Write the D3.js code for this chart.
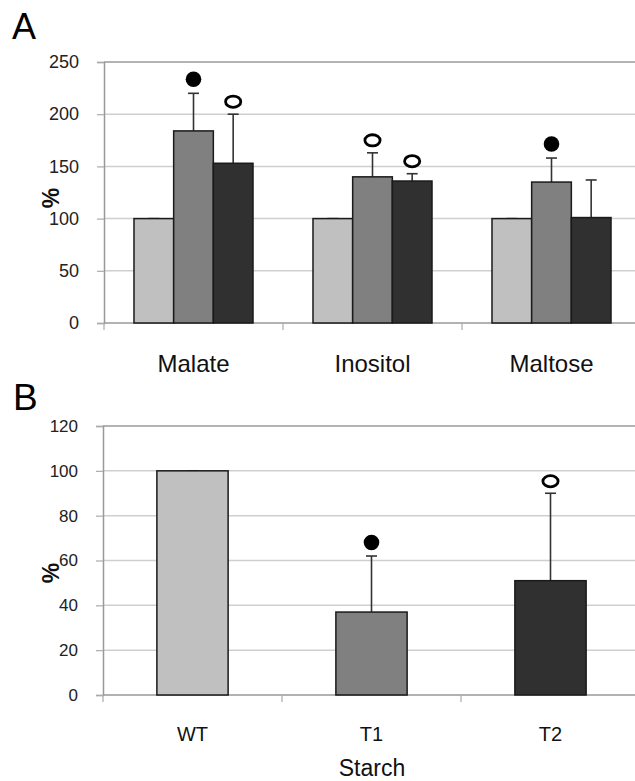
<!DOCTYPE html>
<html>
<head>
<meta charset="utf-8">
<script src="https://cdn.jsdelivr.net/npm/d3@7"></script>
<style>
  body { margin: 0; background: #fff; }
  svg { display: block; font-family: "Liberation Sans", Arial, sans-serif; }
</style>
</head>
<body>
<div id="chart"></div>
<script>
// panel A data
const categoriesA = ["Malate", "Inositol", "Maltose"];
const seriesNames = ["WT", "T1", "T2"];
const valuesWT = [100, 100, 100];
const valuesT1 = [184, 140, 135];
const valuesT2 = [153, 136, 101];
const errorsWT = [0, 0, 0];
const errorsT1 = [36, 23, 23];
const errorsT2 = [47, 7, 36];
const marksT1 = ["filled", "open", "filled"];
const marksT2 = ["open", "open", null];
const ticksA = [0, 50, 100, 150, 200, 250];

// panel B data (starch)
const categoriesB = ["WT", "T1", "T2"];
const valuesB = [100, 37, 51];
const errorsB = [0, 25, 39];
const marksB = [null, "filled", "open"];
const ticksB = [0, 20, 40, 60, 80, 100, 120];

const colors = { WT: "#c0c0c0", T1: "#808080", T2: "#303030" };

const W = 635, H = 781;
const svg = d3.select("#chart").append("svg")
    .attr("width", W)
    .attr("height", H);

function drawFrame(g, y, ticks, x0, x1, fontSize, boundaries) {
    // gridlines
    g.selectAll(".grid")
        .data(ticks.filter(t => t > 0))
        .enter().append("line")
        .attr("x1", x0).attr("x2", x1)
        .attr("y1", d => y(d)).attr("y2", d => y(d))
        .attr("stroke", (d, i, n) => i === n.length - 1 ? "#9a9a9a" : "#cfcfcf")
        .attr("stroke-width", 1.5);

    // y axis
    const yAxis = d3.axisLeft(y).tickValues(ticks).tickSize(7).tickPadding(18);
    const ya = g.append("g")
        .attr("transform", `translate(${x0},0)`)
        .call(yAxis);
    ya.select(".domain").attr("stroke", "#999").attr("stroke-width", 1.5);
    ya.selectAll(".tick line").attr("stroke", "#aaa").attr("stroke-width", 1.2);
    ya.selectAll(".tick text")
        .attr("fill", "#222")
        .style("font-size", fontSize + "px")
        .style("font-family", "'Liberation Sans', Arial, sans-serif");

    // x axis baseline + boundary ticks
    g.append("line")
        .attr("x1", x0).attr("x2", x1)
        .attr("y1", y(0)).attr("y2", y(0))
        .attr("stroke", "#999").attr("stroke-width", 1.5);
    g.selectAll(".xtick")
        .data(boundaries)
        .enter().append("line")
        .attr("x1", d => d).attr("x2", d => d)
        .attr("y1", y(0)).attr("y2", y(0) + 7)
        .attr("stroke", "#aaa").attr("stroke-width", 1.2);
}

function drawMarker(g, cx, cy, kind) {
    if (kind === "filled") {
        g.append("circle")
            .attr("cx", cx).attr("cy", cy - 1.5)
            .attr("r", 7.8)
            .attr("fill", "#000");
    } else if (kind === "open") {
        g.append("ellipse")
            .attr("cx", cx).attr("cy", cy)
            .attr("rx", 7.6).attr("ry", 5.6)
            .attr("fill", "none")
            .attr("stroke", "#000")
            .attr("stroke-width", 2.8);
    }
}

function drawErrorBar(g, cx, yTop, yBar) {
    g.append("line")
        .attr("x1", cx).attr("x2", cx)
        .attr("y1", yBar).attr("y2", yTop)
        .attr("stroke", "#333").attr("stroke-width", 1.6);
    g.append("line")
        .attr("x1", cx - 5.5).attr("x2", cx + 5.5)
        .attr("y1", yTop).attr("y2", yTop)
        .attr("stroke", "#333").attr("stroke-width", 1.6);
}

// ---------- Panel A ----------
const gA = svg.append("g");
const xA = d3.scaleBand()
    .domain(categoriesA)
    .range([104, 641])
    .padding(0);
const xSub = d3.scaleBand()
    .domain(seriesNames)
    .range([0, xA.bandwidth()])
    .paddingInner(0)
    .paddingOuter(0.756);
const yA = d3.scaleLinear().domain([0, 250]).range([323, 62]);

drawFrame(gA, yA, ticksA, 104, 641, 18,
    categoriesA.map(c => xA(c)).concat([641]));

const seriesA = {
    WT: { v: valuesWT, e: errorsWT, m: [null, null, null] },
    T1: { v: valuesT1, e: errorsT1, m: marksT1 },
    T2: { v: valuesT2, e: errorsT2, m: marksT2 }
};

const rowsA = [];
seriesNames.forEach(s => {
    categoriesA.forEach((c, i) => {
        rowsA.push({ cat: c, ser: s, v: seriesA[s].v[i], e: seriesA[s].e[i], m: seriesA[s].m[i] });
    });
});

rowsA.forEach(d => {
    const bx = xA(d.cat) + xSub(d.ser);
    const bw = xSub.bandwidth();
    const cx = bx + bw / 2;
    drawErrorBar(gA, cx, yA(d.v + d.e), yA(d.v));
    gA.append("rect")
        .attr("x", bx).attr("width", bw)
        .attr("y", yA(d.v)).attr("height", yA(0) - yA(d.v))
        .attr("fill", colors[d.ser])
        .attr("stroke", "#1a1a1a").attr("stroke-width", 1.5);
    if (d.m) drawMarker(gA, cx, yA(d.v + d.e) - 12.5, d.m);
});

gA.selectAll(".catA")
    .data(categoriesA)
    .enter().append("text")
    .attr("x", d => xA(d) + xA.bandwidth() / 2)
    .attr("y", 372)
    .attr("text-anchor", "middle")
    .attr("fill", "#111")
    .style("font-size", "24px")
    .text(d => d);

gA.append("text")
    .attr("transform", "translate(51,198) rotate(-90)")
    .attr("text-anchor", "middle")
    .attr("dominant-baseline", "central")
    .style("font-size", "23px")
    .style("font-weight", "bold")
    .attr("fill", "#111")
    .text("%");

gA.append("text")
    .attr("x", 12).attr("y", 39)
    .style("font-size", "36px")
    .attr("fill", "#000")
    .text("A");

// ---------- Panel B ----------
const gB = svg.append("g");
const xB = d3.scaleBand()
    .domain(categoriesB)
    .range([103, 640])
    .paddingInner(0.602)
    .paddingOuter(0.301);
const yB = d3.scaleLinear().domain([0, 120]).range([695, 426]);
const stepB = xB.step();

drawFrame(gB, yB, ticksB, 103, 640, 17,
    categoriesB.map((c, i) => 103 + i * stepB).concat([640]));

categoriesB.forEach((c, i) => {
    const bx = xB(c);
    const bw = xB.bandwidth();
    const cx = bx + bw / 2;
    drawErrorBar(gB, cx, yB(valuesB[i] + errorsB[i]), yB(valuesB[i]));
    gB.append("rect")
        .attr("x", bx).attr("width", bw)
        .attr("y", yB(valuesB[i])).attr("height", yB(0) - yB(valuesB[i]))
        .attr("fill", colors[seriesNames[i]])
        .attr("stroke", "#1a1a1a").attr("stroke-width", 1.5);
    if (marksB[i]) drawMarker(gB, cx, yB(valuesB[i] + errorsB[i]) - 12, marksB[i]);
});

gB.selectAll(".catB")
    .data(categoriesB)
    .enter().append("text")
    .attr("x", d => xB(d) + xB.bandwidth() / 2)
    .attr("y", 741)
    .attr("text-anchor", "middle")
    .attr("fill", "#111")
    .style("font-size", "20px")
    .text(d => d);

gB.append("text")
    .attr("x", 372).attr("y", 776)
    .attr("text-anchor", "middle")
    .attr("fill", "#111")
    .style("font-size", "23px")
    .text("Starch");

gB.append("text")
    .attr("transform", "translate(51,573) rotate(-90)")
    .attr("text-anchor", "middle")
    .attr("dominant-baseline", "central")
    .style("font-size", "23px")
    .style("font-weight", "bold")
    .attr("fill", "#111")
    .text("%");

gB.append("text")
    .attr("x", 13).attr("y", 410)
    .style("font-size", "37px")
    .attr("fill", "#000")
    .text("B");
</script>
</body>
</html>
